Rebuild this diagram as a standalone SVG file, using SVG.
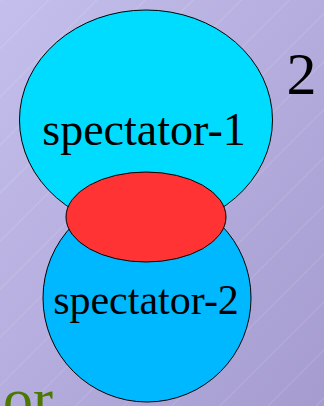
<svg xmlns="http://www.w3.org/2000/svg" width="324" height="406" viewBox="0 0 324 406">
<defs>
<linearGradient id="bg" x1="0" y1="0" x2="1" y2="1">
<stop offset="0" stop-color="#c4bfec"/>
<stop offset="1" stop-color="#a59bcf"/>
</linearGradient>
<pattern id="hatch" width="34" height="34" patternUnits="userSpaceOnUse" patternTransform="rotate(45)">
<line x1="0" y1="0" x2="0" y2="34" stroke="#ffffff" stroke-opacity="0.35" stroke-width="0.8"/>
</pattern>
<style>
.node{stroke:#000;stroke-width:1}
.lbl{font-family:"Liberation Serif","Times New Roman",serif;fill:#000;text-anchor:middle}
</style>
</defs>
<rect width="324" height="406" fill="url(#bg)"/>
<rect width="324" height="406" fill="url(#hatch)"/>
<g id="spectator-1">
<ellipse class="node" cx="146" cy="120" rx="126.5" ry="110" fill="#00dcff"/>
</g>
<g id="spectator-2">
<circle class="node" cx="147" cy="298" r="104" fill="#00b8ff"/>
</g>
<g id="overlap">
<ellipse class="node" cx="146" cy="217" rx="80" ry="45" fill="#ff3333"/>
</g>
<g id="connectors"></g>
<text class="lbl" x="144" y="145" font-size="46">spectator-1</text>
<text class="lbl" x="146" y="314" font-size="42">spectator-2</text>
<text class="lbl" x="301.5" y="94" font-size="60">2</text>
<text x="3" y="419" font-size="60" font-family="'Liberation Serif','Times New Roman',serif" fill="#4a7800">or</text>
</svg>
